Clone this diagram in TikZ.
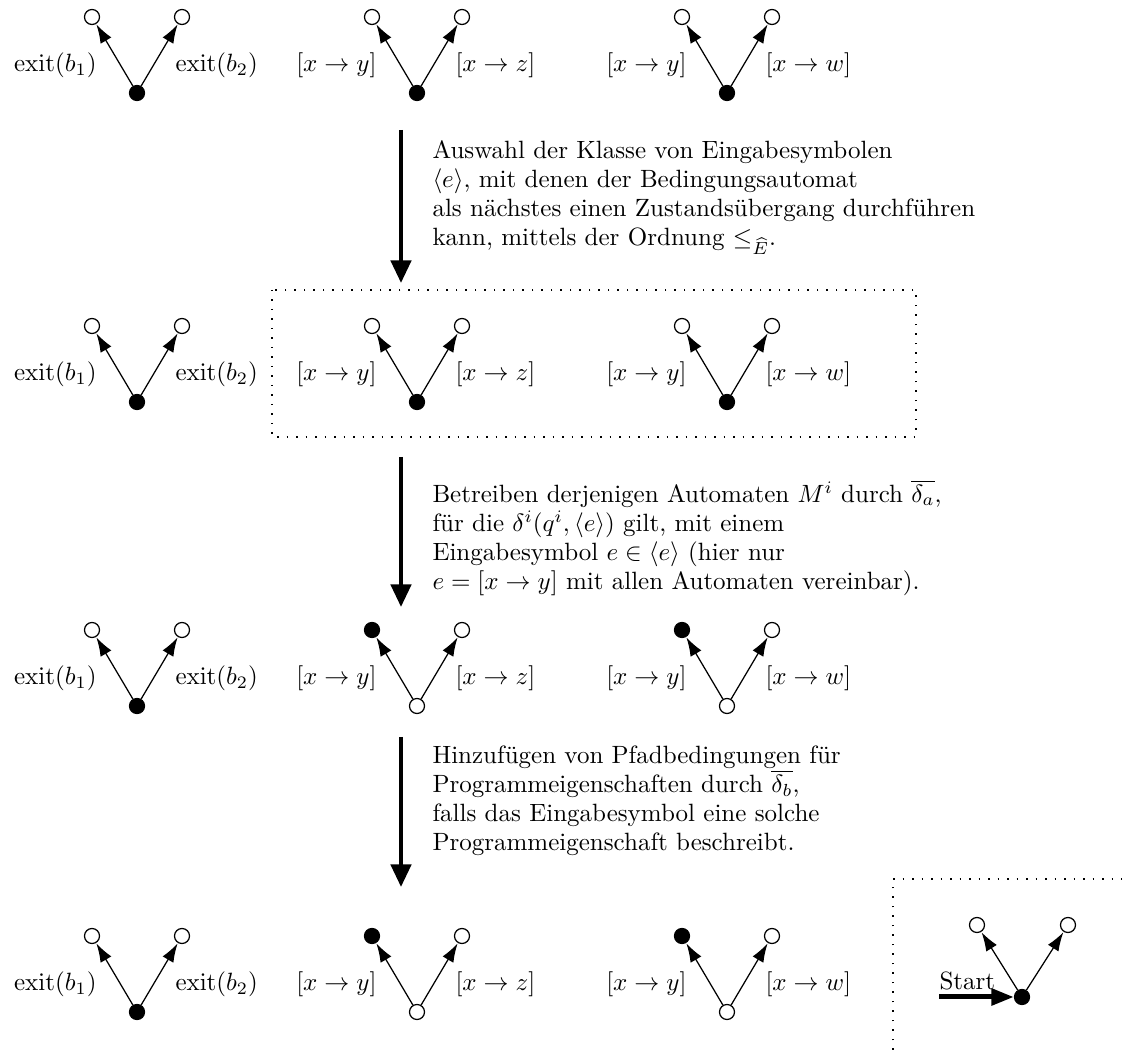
\documentclass[tikz,border=0pt]{standalone}
\usetikzlibrary{arrows.meta}
\usepackage{amsmath,amssymb}

% One V-shaped automaton: a start state at the bottom with two transitions
% #1 name, #2 x, #3 y (bottom state), #4 bottom style, #5 left style,
% #6 right style, #7 left label, #8 right label
\newcommand\vautomaton[8]{%
  \node[#4] (#1b) at (#2,#3) {};
  \node[#5] (#1l) at (#2-45,#3-76) {};
  \node[#6] (#1r) at (#2+45,#3-76) {};
  \draw[trans] (#1b) -- (#1l);
  \draw[trans] (#1b) -- (#1r);
  \node[lab,anchor=base east] (#1tl) at (#2-40,#3-21) {#7};
  \node[lab,anchor=base west] (#1tr) at (#2+38,#3-21) {#8};
}

\begin{document}
\begin{tikzpicture}[x=0.4pt,y=-0.4pt,
  state/.style={circle,draw,line width=0.5pt,inner sep=0pt,minimum size=6pt},
  off/.style={state,fill=white},
  on/.style={state,fill=black},
  trans/.style={-{Latex[length=7.5pt,width=5pt]},line width=0.5pt,shorten >=0.2pt},
  bigarrow/.style={-{Triangle[length=9pt,width=8pt]},line width=1.7pt},
  startarrow/.style={-{Triangle[length=9pt,width=6.5pt]},line width=2pt},
  lab/.style={inner sep=0pt,font=\fontsize{10.2pt}{12pt}\selectfont},
  % multi-line descriptions, placed by the baseline of their last line
  desc/.style={align=left,inner sep=0pt,anchor=base west,
    font=\fontsize{10pt}{11.7pt}\selectfont},
  frame/.style={line width=0.6pt,dash pattern=on 0.6pt off 3.2pt}]

\useasboundingbox (0,0) rectangle (1122,1050);

% ---- row 1: initial configuration
\vautomaton{a}{137}{93}{on}{off}{off}{$\mathrm{exit}(b_1)$}{$\mathrm{exit}(b_2)$}
\vautomaton{b}{417}{93}{on}{off}{off}{$[x\rightarrow y]$}{$[x\rightarrow z]$}
\vautomaton{c}{727}{93}{on}{off}{off}{$[x\rightarrow y]$}{$[x\rightarrow w]$}

% ---- step 1
\coordinate (s1a) at (401,130);
\coordinate (s1b) at (401,283);
\draw[bigarrow] (s1a) -- (s1b);
\node[desc] (t1) at (432,246) {Auswahl der Klasse von Eingabesymbolen\\
$\langle e\rangle$, mit denen der Bedingungsautomat\\
als nächstes einen Zustandsübergang durchführen\\
kann, mittels der Ordnung $\leq_{\widehat{E}}$.};

% ---- row 2: selected class
\vautomaton{d}{137}{402}{on}{off}{off}{$\mathrm{exit}(b_1)$}{$\mathrm{exit}(b_2)$}
\vautomaton{e}{417}{402}{on}{off}{off}{$[x\rightarrow y]$}{$[x\rightarrow z]$}
\vautomaton{f}{727}{402}{on}{off}{off}{$[x\rightarrow y]$}{$[x\rightarrow w]$}
\draw[frame] (272,290) rectangle (916,437);

% ---- step 2
\coordinate (s2a) at (401,457);
\coordinate (s2b) at (401,607);
\draw[bigarrow] (s2a) -- (s2b);
\node[desc] (t2) at (432,590) {Betreiben derjenigen Automaten $M^i$ durch $\overline{\delta_a}$,\\
f\"ur die $\delta^i(q^i,\langle e\rangle)$ gilt, mit einem\\
Eingabesymbol $e\in\langle e\rangle$ (hier nur\\
$e=[x\rightarrow y]$ mit allen Automaten vereinbar).};

% ---- row 3: after the transition
\vautomaton{g}{137}{706}{on}{off}{off}{$\mathrm{exit}(b_1)$}{$\mathrm{exit}(b_2)$}
\vautomaton{h}{417}{706}{off}{on}{off}{$[x\rightarrow y]$}{$[x\rightarrow z]$}
\vautomaton{i}{727}{706}{off}{on}{off}{$[x\rightarrow y]$}{$[x\rightarrow w]$}

% ---- step 3
\coordinate (s3a) at (401,737);
\coordinate (s3b) at (401,887);
\draw[bigarrow] (s3a) -- (s3b);
\node[desc] (t3) at (432,851) {Hinzuf\"ugen von Pfadbedingungen f\"ur\\
Programmeigenschaften durch $\overline{\delta_b}$,\\
falls das Eingabesymbol eine solche\\
Programmeigenschaft beschreibt.};

% ---- row 4: final configuration
\vautomaton{j}{137}{1012}{on}{off}{off}{$\mathrm{exit}(b_1)$}{$\mathrm{exit}(b_2)$}
\vautomaton{k}{417}{1012}{off}{on}{off}{$[x\rightarrow y]$}{$[x\rightarrow z]$}
\vautomaton{l}{727}{1012}{off}{on}{off}{$[x\rightarrow y]$}{$[x\rightarrow w]$}

% ---- legend: a fresh automaton with its start marker
\draw[frame] (893,1050) -- (893,879) -- (1122,879);
\node[on] (mb) at (1022,997) {};
\node[off] (ml) at (977,925) {};
\node[off] (mr) at (1068,925) {};
\draw[trans] (mb) -- (ml);
\draw[trans] (mb) -- (mr);
\coordinate (st) at (939,997);
\draw[startarrow] (st) -- (mb);
\node[inner sep=0pt,anchor=base west] (stl) at (939,990) {Start};

\end{tikzpicture}
\end{document}
